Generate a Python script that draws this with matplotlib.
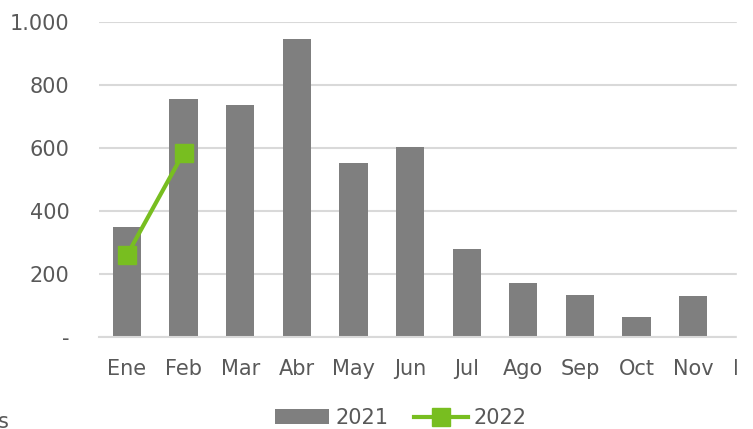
import matplotlib.pyplot as plt
from matplotlib.patches import Rectangle
import numpy as np

MONTHS = ["Ene", "Feb", "Mar", "Abr", "May", "Jun", "Jul", "Ago", "Sep", "Oct", "Nov", "Dic"]
VALUES_2021 = [350, 755, 737, 946, 552, 603, 279, 171, 133, 64, 130, np.nan]
VALUES_2022 = [260, 585]

BAR_COLOR = "#7f7f7f"
LINE_COLOR = "#78be20"
GRID_COLOR = "#d9d9d9"
TEXT_COLOR = "#595959"
FONT_SIZE = 15

W, H = 753, 429
fig = plt.figure(figsize=(W / 100, H / 100), dpi=100)
# plot area runs past the right edge, as in the cropped original
ax = fig.add_axes([98.7 / W, (H - 337) / H, (778 - 98.7) / W, 315 / H])

x = np.arange(len(MONTHS))
bars = ax.bar(x, VALUES_2021, width=0.5, color=BAR_COLOR, label="2021", zorder=2)
line, = ax.plot(x[:len(VALUES_2022)], VALUES_2022, color=LINE_COLOR, lw=3, marker="s",
                ms=13.5, label="2022", zorder=3)

ax.set_xlim(-0.5, len(MONTHS) - 0.5)
ax.set_ylim(0, 1000)
ax.set_yticks(range(0, 1001, 200))
ax.set_yticklabels(["-" if v == 0 else f"{v:,}".replace(",", ".") for v in range(0, 1001, 200)])
ax.set_xticks(x)
ax.set_xticklabels(MONTHS)
ax.yaxis.grid(True, color=GRID_COLOR, lw=1.5, zorder=0)
ax.set_axisbelow(True)
for s in ["top", "right", "left"]:
    ax.spines[s].set_visible(False)
ax.spines["bottom"].set_color(GRID_COLOR)
ax.spines["bottom"].set_linewidth(1.5)
ax.tick_params(axis="both", length=0, labelsize=FONT_SIZE, labelcolor=TEXT_COLOR)
ax.tick_params(axis="y", pad=21)
ax.tick_params(axis="x", pad=16)

fig.legend([bars, line], ["2021", "2022"], loc="center",
           bbox_to_anchor=(401 / W, (H - 418) / H), ncol=2,
           frameon=False, fontsize=FONT_SIZE, handlelength=2.6,
           columnspacing=1.2, handletextpad=0.3, labelcolor=TEXT_COLOR)

# white strip where the original image was cut off
fig.patches.append(Rectangle((737 / W, 0), 1, 1, transform=fig.transFigure,
                             color="white", zorder=10))
fig.text(-0.003, (H - 422) / H, "s", fontsize=FONT_SIZE, color=TEXT_COLOR, va="center")

fig.savefig("out.png", dpi=100)
